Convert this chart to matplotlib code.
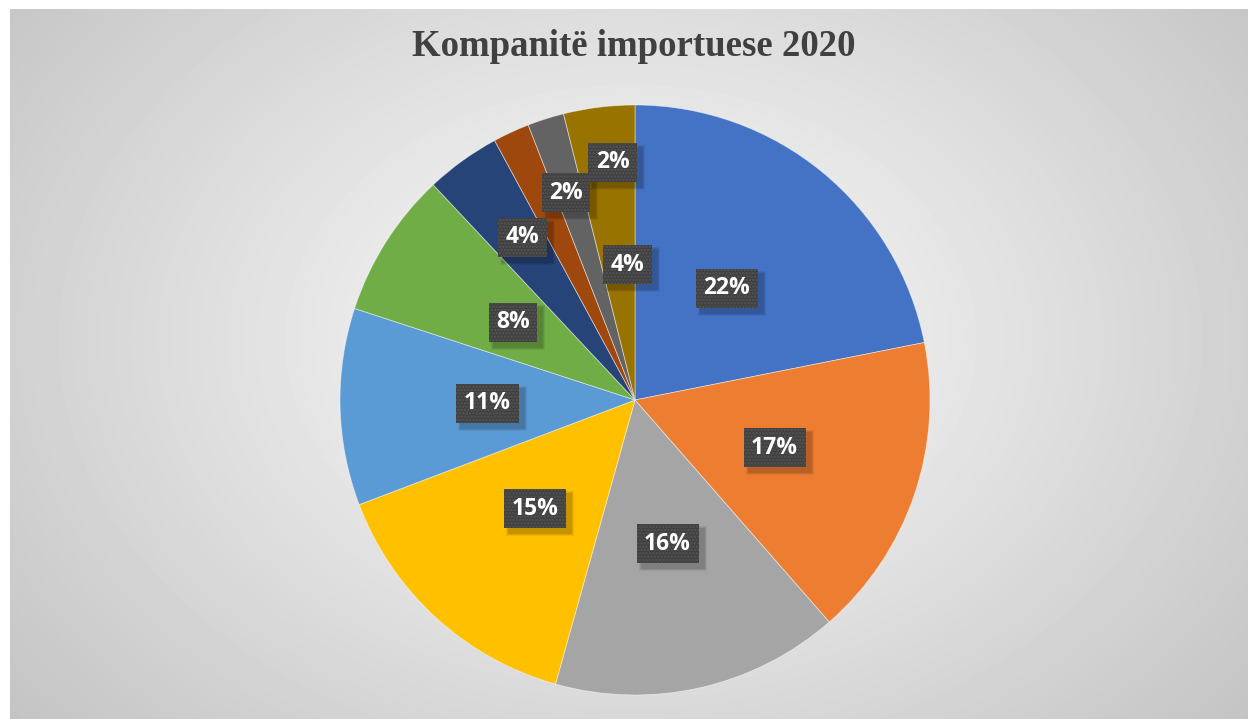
import matplotlib.pyplot as plt
import numpy as np
from matplotlib.patches import Rectangle

# Pjesët e tregut (%), në drejtim orar nga lart
shares = [21.9, 16.7, 15.8, 14.9, 10.8, 8.0, 4.1, 2.0, 2.0, 3.9]
colors = ['#4472C4', '#ED7D31', '#A5A5A5', '#FFC000', '#5B9BD5',
          '#70AD47', '#264478', '#9E480E', '#636363', '#997300']
title = "Kompanitë importuese 2020"

# pozicioni i etiketave (rreze, zhvendosje këndore)
label_r = [0.49, 0.50, 0.50, 0.50, 0.50, 0.49, 0.67, 0.74, 0.81, 0.46]
label_da = [0, 0, 0, 0, 0, 0, -1.2, -6.4, -12.3, -3.7]

plt.rcParams['hatch.linewidth'] = 1.2

W, H = 1248, 719
fig = plt.figure(figsize=(W / 100, H / 100), dpi=100)
fig.patch.set_facecolor('white')

# sfondi me gradient radial
bg = fig.add_axes([10 / W, 0, (W - 10) / W, (H - 9) / H])
yy, xx = np.mgrid[0:H - 9, 0:W - 10]
d = np.sqrt(((xx - 620) / 760) ** 2 + ((yy - 330) / 560) ** 2)
shade = np.clip(0.99 - 0.21 * d, 0.76, 1)
bg.imshow(shade, cmap='gray', vmin=0, vmax=1, aspect='auto', interpolation='bilinear')
bg.axis('off')

# pie
cx, cy, R = 635, 400, 295
ax = fig.add_axes([(cx - R) / W, (H - cy - R) / H, 2 * R / W, 2 * R / H])
wedges, _ = ax.pie(shares, colors=colors, startangle=90, counterclock=False,
                   wedgeprops=dict(edgecolor=(1, 1, 1, 0.5), linewidth=0.6))
ax.set_xlim(-1, 1)
ax.set_ylim(-1, 1)
ax.set_aspect('equal')
ax.axis('off')

labels = []
for w, v, r, da in zip(wedges, shares, label_r, label_da):
    ang = np.deg2rad((w.theta1 + w.theta2) / 2 + da)
    x, y = r * np.cos(ang), r * np.sin(ang)
    t = ax.text(x, y, f"{round(v)}%", ha='center', va='center', fontsize=16.5,
                fontweight='bold', family='Open Sans', color='white', zorder=5,
                bbox=dict(boxstyle='square,pad=0.33', facecolor='#404040',
                          edgecolor='#555555', linewidth=0))
    t.get_bbox_patch().set_hatch('.....')
    labels.append(t)

fig.text(634 / W, 1 - 47 / H, title, ha='center', va='center',
         fontsize=26.5, fontweight='bold', family='Liberation Serif', color='#404040')

# hije e butë poshtë djathtas
fig.canvas.draw()
for t in labels:
    bb = t.get_bbox_patch().get_window_extent()
    for k, a in zip([6, 4, 2], [0.06, 0.08, 0.10]):
        fig.patches.append(Rectangle((bb.x0 + 5 - k / 2, bb.y0 - 5 - k / 2),
                                     bb.width + k, bb.height + k,
                                     transform=None, facecolor='black',
                                     alpha=a, edgecolor='none', zorder=1))
for t in labels:
    t.remove()
    fig.add_artist(t)
    t.set_transform(ax.transData)

fig.savefig('out.png', dpi=100)
